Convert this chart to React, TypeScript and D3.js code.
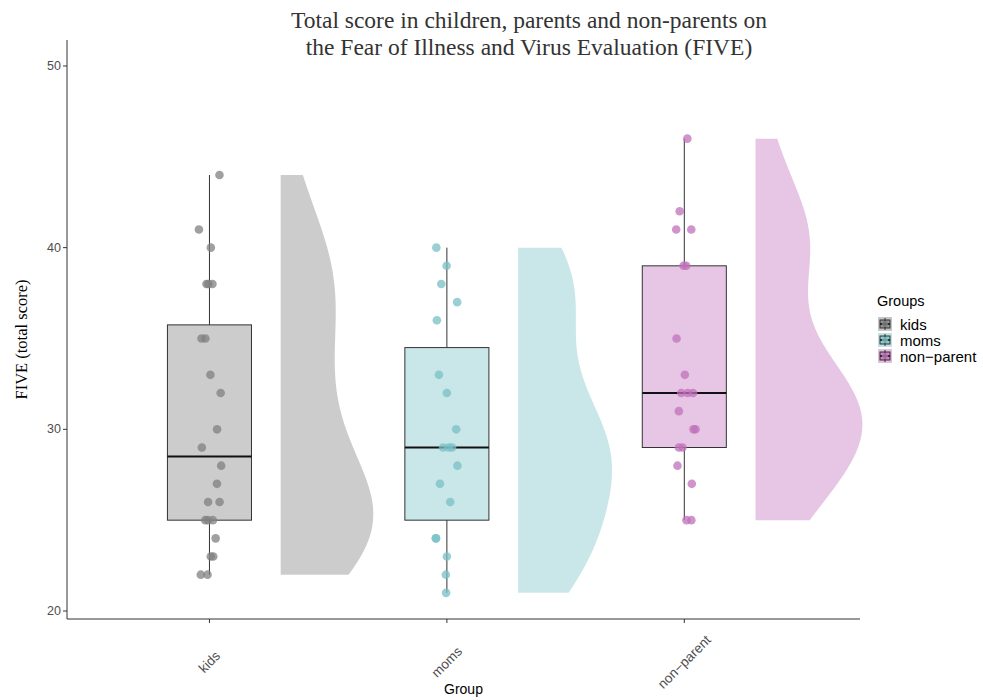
import React from 'react';
import * as d3 from 'd3';

// FIVE total scores per group
const groups = ['kids', 'moms', 'non-parent'];
const kidsScores = [44, 41, 40, 38, 38, 38, 35, 35, 33, 32, 30, 29, 28, 27, 26, 26, 25, 25, 25, 24, 23, 23, 22, 22];
const momsScores = [40, 39, 38, 37, 36, 33, 32, 30, 29, 29, 29, 28, 27, 26, 24, 24, 23, 22, 21];
const nonParentScores = [46, 42, 41, 41, 39, 39, 35, 33, 32, 32, 32, 31, 30, 30, 29, 29, 28, 27, 25, 25];
const yTicks = [20, 30, 40, 50];

const scores = [kidsScores, momsScores, nonParentScores];
const baseColors = ['#808080', '#78c0c5', '#c070bb'];

const W = 983;
const H = 700;
const panel = { left: 67, right: 860, top: 40, bottom: 619 };

const x = d3.scaleLinear().domain([0.4, 3.74]).range([panel.left, panel.right]);
const y = d3.scaleLinear().domain([19.56, 51.43]).range([panel.bottom, panel.top]);
const unit = x(1) - x(0);

const sans = "'Liberation Sans', Arial, sans-serif";
const serif = "'Liberation Serif', 'Times New Roman', serif";

function boxStats(v: number[]) {
  const s = [...v].sort(d3.ascending);
  const q1 = d3.quantileSorted(s, 0.25)!;
  const med = d3.quantileSorted(s, 0.5)!;
  const q3 = d3.quantileSorted(s, 0.75)!;
  const iqr = q3 - q1;
  const lo = d3.min(s.filter(d => d >= q1 - 1.5 * iqr))!;
  const hi = d3.max(s.filter(d => d <= q3 + 1.5 * iqr))!;
  return { q1, med, q3, lo, hi };
}

// gaussian kde with R's bw.nrd0, trimmed to the data range
function kde(v: number[]) {
  const n = v.length;
  const sd = d3.deviation(v)!;
  const iqr = d3.quantile(v, 0.75)! - d3.quantile(v, 0.25)!;
  const bw = 0.9 * Math.min(sd, iqr / 1.34) * Math.pow(n, -0.2);
  const [mn, mx] = d3.extent(v) as [number, number];
  return d3.range(0, 201).map(i => {
    const t = mn + ((mx - mn) * i) / 200;
    const dens = d3.sum(v, xi => Math.exp(-0.5 * ((t - xi) / bw) ** 2)) / (n * bw * Math.sqrt(2 * Math.PI));
    return [t, dens] as [number, number];
  });
}

// deterministic jitter
function jitter(g: number, i: number) {
  const h = Math.sin((g * 97 + i + 1) * 12.9898) * 43758.5453;
  return (h - Math.floor(h) - 0.5) * 0.1;
}

export default function App() {
  const densities = scores.map(kde);
  const maxD = d3.max(densities.flat(), d => d[1])!;

  return (
    <svg width={W} height={H} style={{ position: 'absolute', left: 0, top: 0, background: '#fff' }}>
      {/* Title */}
      <text x={529} y={28} textAnchor="middle" fontFamily={serif} fontSize={23.5} fill="#333">
        Total score in children, parents and non-parents on
      </text>
      <text x={529} y={55} textAnchor="middle" fontFamily={serif} fontSize={23.5} fill="#333">
        the Fear of Illness and Virus Evaluation (FIVE)
      </text>

      {/* half violins */}
      {densities.map((dens, i) => {
        const x0 = x(i + 1.3);
        const area = d3.area<[number, number]>()
          .y(d => y(d[0]))
          .x0(x0)
          .x1(d => x0 + (d[1] / maxD) * 0.45 * unit);
        return <path key={'v' + i} d={area(dens)!} fill={baseColors[i]} fillOpacity={0.4} />;
      })}

      {/* boxplots */}
      {scores.map((v, i) => {
        const s = boxStats(v);
        const cx = x(i + 1);
        const hw = 0.177 * unit;
        return (
          <g key={'b' + i}>
            <line x1={cx} x2={cx} y1={y(s.hi)} y2={y(s.q3)} stroke="#333" strokeWidth={1} />
            <line x1={cx} x2={cx} y1={y(s.q1)} y2={y(s.lo)} stroke="#333" strokeWidth={1} />
            <rect x={cx - hw} width={2 * hw} y={y(s.q3)} height={y(s.q1) - y(s.q3)}
              fill={baseColors[i]} fillOpacity={0.4} stroke="#333" strokeWidth={1} />
            <line x1={cx - hw} x2={cx + hw} y1={y(s.med)} y2={y(s.med)} stroke="#111" strokeWidth={2} />
          </g>
        );
      })}

      {/* points */}
      {scores.map((v, i) =>
        v.map((d, j) => (
          <circle key={`p${i}-${j}`} cx={x(i + 1 + jitter(i, j))} cy={y(d)} r={4.3}
            fill={baseColors[i]} fillOpacity={0.75} />
        ))
      )}

      {/* axes */}
      <line x1={panel.left} x2={panel.left} y1={panel.top} y2={panel.bottom} stroke="#333" strokeWidth={1} />
      <line x1={panel.left} x2={panel.right} y1={panel.bottom} y2={panel.bottom} stroke="#333" strokeWidth={1} />
      {yTicks.map(t => (
        <g key={'yt' + t}>
          <line x1={panel.left - 4} x2={panel.left} y1={y(t)} y2={y(t)} stroke="#333" />
          <text x={panel.left - 6} y={y(t)} textAnchor="end" dominantBaseline="central"
            fontFamily={sans} fontSize={12.5} fill="#4d4d4d">{t}</text>
        </g>
      ))}
      {groups.map((g, i) => (
        <g key={'xt' + g}>
          <line x1={x(i + 1)} x2={x(i + 1)} y1={panel.bottom} y2={panel.bottom + 4} stroke="#333" />
          <text transform={`translate(${x(i + 1)},${662}) rotate(-45)`} textAnchor="middle"
            dominantBaseline="central" fontFamily={sans} fontSize={13.5} fill="#4d4d4d">
            {g === 'non-parent' ? 'non\u2212parent' : g}
          </text>
        </g>
      ))}
      <text x={(panel.left + panel.right) / 2} y={694} textAnchor="middle" fontFamily={sans} fontSize={14} fill="#000">
        Group
      </text>
      <text transform={`translate(21,${(panel.top + panel.bottom) / 2 + 10}) rotate(-90)`} textAnchor="middle"
        dominantBaseline="central" fontFamily={serif} fontSize={16.5} fill="#000">
        FIVE (total score)
      </text>

      {/* legend */}
      <text x={877} y={306} fontFamily={sans} fontSize={14.5} fill="#000">Groups</text>
      {groups.map((g, i) => {
        const cy = 324 + i * 16;
        return (
          <g key={'lg' + g}>
            <rect x={878} y={cy - 7} width={14} height={14} fill={baseColors[i]} fillOpacity={0.45} />
            <rect x={880} y={cy - 4} width={10} height={8} fill={baseColors[i]} fillOpacity={0.7} stroke="#333" strokeWidth={1} />
            <line x1={885} x2={885} y1={cy - 6} y2={cy + 6} stroke="#333" />
            <line x1={880} x2={890} y1={cy} y2={cy} stroke="#111" strokeWidth={1.5} />
            <circle cx={885} cy={cy} r={3} fill={baseColors[i]} fillOpacity={0.8} />
            <text x={900} y={cy} dominantBaseline="central" fontFamily={sans} fontSize={15} fill="#000">
              {g === 'non-parent' ? 'non\u2212parent' : g}
            </text>
          </g>
        );
      })}
    </svg>
  );
}
